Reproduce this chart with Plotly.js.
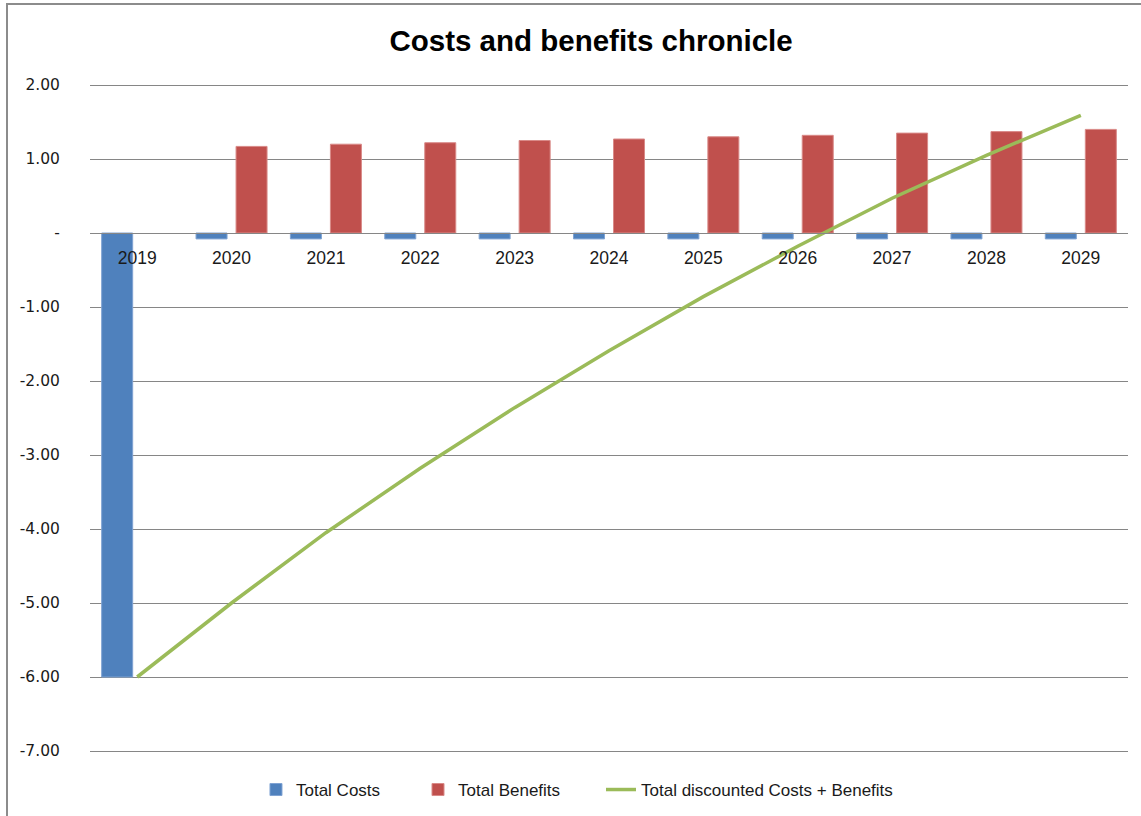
<!DOCTYPE html>
<html>
<head>
<meta charset="utf-8">
<script src="https://cdn.plot.ly/plotly-3.0.1.min.js"></script>
<style>
  html, body { margin: 0; padding: 0; background: #ffffff; }
  #wrap { position: relative; width: 1141px; height: 816px; }
  #chart { width: 1141px; height: 816px; }
  #frame { position: absolute; left: 6px; top: 3px; right: 0; bottom: 0;
           border-left: 2px solid #8c8c8c; border-top: 2px solid #8c8c8c;
           pointer-events: none; }
</style>
</head>
<body>
<div id="wrap">
  <div id="chart"></div>
  <div id="frame"></div>
</div>
<script>
// ---- data ----
const years = ["2019","2020","2021","2022","2023","2024","2025","2026","2027","2028","2029"];
const totalCosts = [-6.00, -0.08, -0.08, -0.08, -0.08, -0.08, -0.08, -0.08, -0.08, -0.08, -0.08];
const totalBenefits = [null, 1.17, 1.20, 1.22, 1.25, 1.27, 1.30, 1.32, 1.35, 1.37, 1.40];
const discountedCumulative = [-6.00, -5.00, -4.05, -3.18, -2.36, -1.59, -0.86, -0.18, 0.47, 1.05, 1.59];
const yTickVals = [2, 1, 0, -1, -2, -3, -4, -5, -6, -7];
const yTickText = ["2.00", "1.00", "-", "-1.00", "-2.00", "-3.00", "-4.00", "-5.00", "-6.00", "-7.00"];

const traces = [
  {
    type: "bar", name: "Total Costs", x: years, y: totalCosts, legend: "legend",
    marker: { color: "#4F81BD", line: { color: "#7FA3D3", width: 1 } }
  },
  {
    type: "bar", name: "Total Benefits", x: years, y: totalBenefits, legend: "legend2",
    marker: { color: "#C0504D", line: { color: "#D98A88", width: 1 } }
  },
  {
    type: "scatter", mode: "lines", name: "Total discounted Costs + Benefits", legend: "legend3",
    x: years, y: discountedCumulative,
    line: { color: "#9BBB59", width: 3.5 }
  }
];

// pad the range so the gridlines at 2.00 and -7.00 are drawn
const pad = 0.054;
const legendFont = { family: "Liberation Sans, Arial, sans-serif", size: 17, color: "#1a1a1a" };
const legendY = -0.0519;
function legendAt(xPaper) {
  return { orientation: "h", x: xPaper, xanchor: "left", y: legendY, yanchor: "middle",
           font: legendFont, bgcolor: "rgba(0,0,0,0)", borderwidth: 0 };
}
const layout = {
  width: 1141, height: 816,
  margin: { l: 90, r: 13, t: 81, b: 61, autoexpand: false },
  paper_bgcolor: "#ffffff", plot_bgcolor: "#ffffff",
  title: {
    text: "<b>Costs and benefits chronicle</b>",
    font: { family: "Liberation Sans, Arial, sans-serif", size: 29.5, color: "#000000" },
    x: 0.518, xanchor: "center", xref: "container",
    y: 43, yref: "container", yanchor: "middle"
  },
  barmode: "group",
  bargap: 0.152,
  bargroupgap: 0.225,
  showlegend: true,
  legend: legendAt(0.1599),
  legend2: legendAt(0.316),
  legend3: legendAt(0.4923),
  xaxis: {
    type: "category",
    anchor: "free", position: (7 + pad) / (9 + 2 * pad),
    showline: true, linecolor: "#868686", linewidth: 1,
    showgrid: false, zeroline: false,
    ticks: "outside", ticklen: 9, tickcolor: "rgba(0,0,0,0)",
    tickfont: { family: "Liberation Sans, Arial, sans-serif", size: 17.5, color: "#1a1a1a" },
    fixedrange: true
  },
  yaxis: {
    range: [-7 - pad, 2 + pad],
    tickvals: yTickVals, ticktext: yTickText,
    showgrid: true, gridcolor: "#868686", gridwidth: 1,
    zeroline: false, showline: false,
    ticks: "outside", ticklen: 26, tickcolor: "rgba(0,0,0,0)",
    tickfont: { family: "DejaVu Sans, Verdana, sans-serif", size: 15.5, color: "#1a1a1a" },
    fixedrange: true
  }
};

Plotly.newPlot("chart", traces, layout, { displayModeBar: false, staticPlot: true });
</script>
</body>
</html>
